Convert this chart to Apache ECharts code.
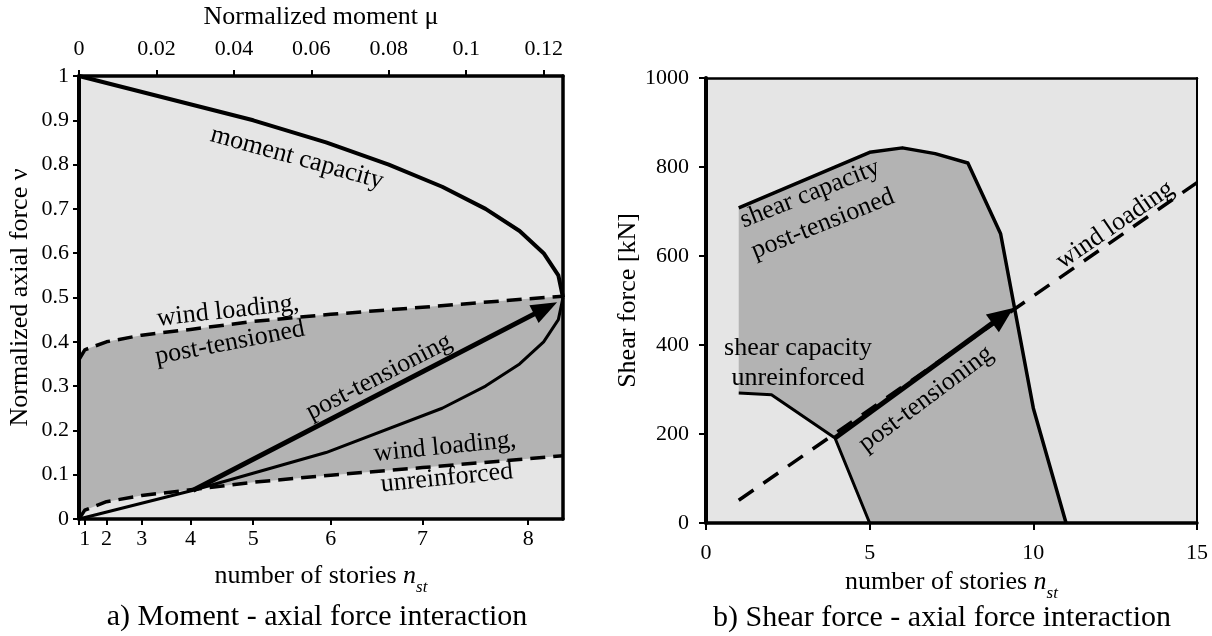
<!DOCTYPE html>
<html>
<head>
<meta charset="utf-8">
<script src="https://cdn.jsdelivr.net/npm/echarts@6/dist/echarts.min.js"></script>
<style>
html,body{margin:0;padding:0;background:#fff;}
#chart{width:1212px;height:636px;}
</style>
</head>
<body>
<div id="chart"></div>
<script>
// ---------- Panel a) Moment - axial force interaction ----------
const muTicks = [0, 0.02, 0.04, 0.06, 0.08, 0.1, 0.12];
const storyLabels = ['1', '2', '3', '4', '5', '6', '7', '8'];
const storyMu = [0.0015, 0.0071, 0.0162, 0.0288, 0.045, 0.065, 0.0887, 0.116];

const capUpperMu = [0, 0.045, 0.0638, 0.08, 0.0938, 0.105, 0.1138, 0.12, 0.1238, 0.125];
const capUpperNu = [1, 0.9, 0.85, 0.8, 0.75, 0.7, 0.65, 0.6, 0.55, 0.5];
const capLowerMu = [0.125, 0.1238, 0.12, 0.1138, 0.105, 0.0938, 0.0638, 0.0295, 0];
const capLowerNu = [0.5, 0.45, 0.4, 0.35, 0.3, 0.25, 0.15, 0.065, 0];

const windMu = [0, 0.0015, 0.0071, 0.0162, 0.0288, 0.045, 0.065, 0.0887, 0.116, 0.125];
const windUnreinfNu = [0, 0.02, 0.039, 0.053, 0.066, 0.083, 0.099, 0.116, 0.136, 0.143];
const windPostNu = [0.36, 0.382, 0.4, 0.415, 0.428, 0.446, 0.462, 0.478, 0.497, 0.503];

const ptArrowMu = [0.0295, 0.1205];
const ptArrowNu = [0.065, 0.476];

// ---------- Panel b) Shear force - axial force interaction ----------
const shearPostN = [1, 5, 6, 7, 8, 9, 10, 11];
const shearPostV = [708, 833, 843, 830, 809, 650, 258, 0];
const shearUnreinfN = [1, 2, 3.94, 5];
const shearUnreinfV = [292, 288, 191, 0];
const windN = [1, 15];
const windV = [51, 765];
const ptArrowN = [3.94, 9.07];
const ptArrowV = [191, 466];

// ---------- styling ----------
const FONT = 'Liberation Serif';
const LIGHT = '#e5e5e5';
const DARK = '#b3b3b3';
const zip = (a, b) => a.map((v, i) => [v, b[i]]);

function storyLabel(v) {
  let best = 0;
  storyMu.forEach((m, i) => { if (Math.abs(m - v) < Math.abs(storyMu[best] - v)) best = i; });
  return storyLabels[best];
}

const tickLabel = (extra) => Object.assign({ show: true, fontFamily: FONT, fontSize: 22, color: '#000', formatter: (v) => String(v) }, extra);
const line = (w) => ({ show: true, onZero: false, lineStyle: { color: '#000', width: w } });
const tick = (extra) => Object.assign({ show: true, length: 6, lineStyle: { color: '#000', width: 2 } }, extra);
const subName = {
  fontFamily: FONT, fontSize: 26, color: '#000',
  rich: {
    a: { fontFamily: FONT, fontSize: 26, lineHeight: 40, color: '#000' },
    n: { fontFamily: FONT, fontSize: 26, fontStyle: 'italic', lineHeight: 40, color: '#000' },
    s: { fontFamily: FONT, fontSize: 17, fontStyle: 'italic', lineHeight: 20, verticalAlign: 'bottom', color: '#000' }
  }
};
const plainName = { fontFamily: FONT, fontSize: 26, color: '#000' };
const hidden = { axisTick: { show: false }, axisLabel: { show: false }, splitLine: { show: false } };

function curve(name, xi, yi, xs, ys, width, dashed) {
  return {
    name, type: 'line', xAxisIndex: xi, yAxisIndex: yi, data: zip(xs, ys),
    symbol: 'none', showSymbol: false, silent: true, z: 3,
    lineStyle: { color: '#000', width, type: dashed ? dashed : 'solid', cap: 'butt', join: 'round' }
  };
}
// region between an upper boundary and a lower boundary, drawn as one polygon through the axes
function zone(name, xi, yi, upX, upY, loX, loY, color) {
  const pts = zip(upX, upY).concat(zip(loX, loY).reverse());
  return {
    name, type: 'custom', coordinateSystem: 'cartesian2d', xAxisIndex: xi, yAxisIndex: yi,
    data: [pts[0]], silent: true, z: 1, clip: true,
    renderItem: (params, api) => ({
      type: 'polygon',
      shape: { points: pts.map((p) => api.coord(p)) },
      style: { fill: color, stroke: null }
    })
  };
}
function arrow(name, xi, yi, xs, ys, size) {
  return {
    name, type: 'line', xAxisIndex: xi, yAxisIndex: yi, data: [], silent: true, z: 4,
    markLine: {
      silent: true, animation: false, symbol: ['none', 'triangle'], symbolSize: size,
      label: { show: false }, emphasis: { disabled: true },
      lineStyle: { color: '#000', width: 5, type: 'solid' },
      itemStyle: { color: '#000' },
      data: [[{ coord: [xs[0], ys[0]] }, { coord: [xs[1], ys[1]] }]]
    }
  };
}
function T(text, x, y, rot, size) {
  return {
    type: 'text', x, y, rotation: rot || 0, z: 100, silent: true,
    style: { text, font: (size || 26) + 'px "' + FONT + '"', fill: '#000',
             align: 'center', verticalAlign: 'middle', textAlign: 'center', textVerticalAlign: 'middle' }
  };
}

const chart = echarts.init(document.getElementById('chart'), null, { renderer: 'canvas' });
chart.setOption({
  animation: false,
  backgroundColor: '#ffffff',
  grid: [
    { left: 79, top: 76, width: 484, height: 443, show: true, backgroundColor: LIGHT, borderWidth: 0, containLabel: false, outerBoundsMode: 'none' },
    { left: 706, top: 78, width: 491, height: 445, show: true, backgroundColor: LIGHT, borderWidth: 0, containLabel: false, outerBoundsMode: 'none' }
  ],
  xAxis: [
    { gridIndex: 0, type: 'value', position: 'bottom', min: 0, max: 0.125, z: 10,
      axisLine: line(3.5), splitLine: { show: false },
      axisTick: tick({ customValues: [0].concat(storyMu) }),
      axisLabel: tickLabel({ customValues: storyMu, formatter: storyLabel, margin: 9 }),
      name: '{a|number of stories }{n|n}{s|st}', nameLocation: 'middle', nameGap: 37, nameTextStyle: subName },
    { gridIndex: 0, type: 'value', position: 'top', min: 0, max: 0.125, z: 10,
      axisLine: line(3.5), splitLine: { show: false },
      axisTick: tick({ customValues: muTicks }),
      axisLabel: tickLabel({ customValues: muTicks, margin: 16 }),
      name: 'Normalized moment μ', nameLocation: 'middle', nameGap: 46, nameTextStyle: plainName },
    { gridIndex: 1, type: 'value', position: 'bottom', min: 0, max: 15, interval: 5, z: 10,
      axisLine: line(3.5), splitLine: { show: false },
      axisTick: tick({ length: 7 }),
      axisLabel: tickLabel({ margin: 19 }),
      name: '{a|number of stories }{n|n}{s|st}', nameLocation: 'middle', nameGap: 33, nameTextStyle: subName },
    Object.assign({ gridIndex: 1, type: 'value', position: 'top', min: 0, max: 15, z: 10, axisLine: line(2.5) }, hidden)
  ],
  yAxis: [
    { gridIndex: 0, type: 'value', position: 'left', min: 0, max: 1, interval: 0.1, z: 10,
      axisLine: line(4), splitLine: { show: false },
      axisTick: tick({}),
      axisLabel: tickLabel({ margin: 10 }),
      name: 'Normalized axial force ν', nameLocation: 'middle', nameRotate: 90, nameGap: 46, nameTextStyle: plainName },
    Object.assign({ gridIndex: 0, type: 'value', position: 'right', min: 0, max: 1, z: 10, axisLine: line(3.5) }, hidden),
    { gridIndex: 1, type: 'value', position: 'left', min: 0, max: 1000, interval: 200, z: 10,
      axisLine: line(4), splitLine: { show: false },
      axisTick: tick({ length: 7 }),
      axisLabel: tickLabel({ margin: 17 }),
      name: 'Shear force [kN]', nameLocation: 'middle', nameRotate: 90, nameGap: 50, nameTextStyle: plainName },
    Object.assign({ gridIndex: 1, type: 'value', position: 'right', min: 0, max: 1000, z: 10, axisLine: line(2) }, hidden)
  ],
  series: [
    zone('zone between wind loadings', 0, 0, windMu, windPostNu, windMu, windUnreinfNu, DARK),
    curve('moment capacity (upper)', 0, 0, capUpperMu, capUpperNu, 4),
    curve('moment capacity (lower)', 0, 0, capLowerMu, capLowerNu, 3),
    curve('wind loading, post-tensioned', 0, 0, windMu, windPostNu, 3.5, [15, 8]),
    curve('wind loading, unreinforced', 0, 0, windMu, windUnreinfNu, 3.5, [15, 8]),
    arrow('post-tensioning (a)', 0, 0, ptArrowMu, ptArrowNu, [20, 26]),

    zone('zone between shear capacities', 2, 2, shearPostN, shearPostV, shearUnreinfN, shearUnreinfV, DARK),
    curve('shear capacity post-tensioned', 2, 2, shearPostN, shearPostV, 3.5),
    curve('shear capacity unreinforced', 2, 2, shearUnreinfN, shearUnreinfV, 3),
    curve('wind loading', 2, 2, windN, windV, 3.5, [18, 12]),
    arrow('post-tensioning (b)', 2, 2, ptArrowN, ptArrowV, [22, 26])
  ],
  graphic: [
    T('moment capacity', 297, 158, -0.27),
    T('wind loading,', 228, 311, 0.11),
    T('post-tensioned', 230, 343, 0.19),
    T('post-tensioning', 379, 377, 0.476),
    T('wind loading,', 445, 447, 0.1),
    T('unreinforced', 447, 478, 0.1),
    T('shear capacity', 810, 194, 0.38),
    T('post-tensioned', 823, 224, 0.38),
    T('wind loading', 1115, 225, 0.6),
    T('shear capacity', 798, 348, 0),
    T('unreinforced', 798, 378, 0),
    T('post-tensioning', 926, 399, 0.64),
    T('a) Moment - axial force interaction', 317, 617, 0, 30),
    T('b) Shear force - axial force interaction', 942, 618, 0, 30)
  ]
});
</script>
</body>
</html>
